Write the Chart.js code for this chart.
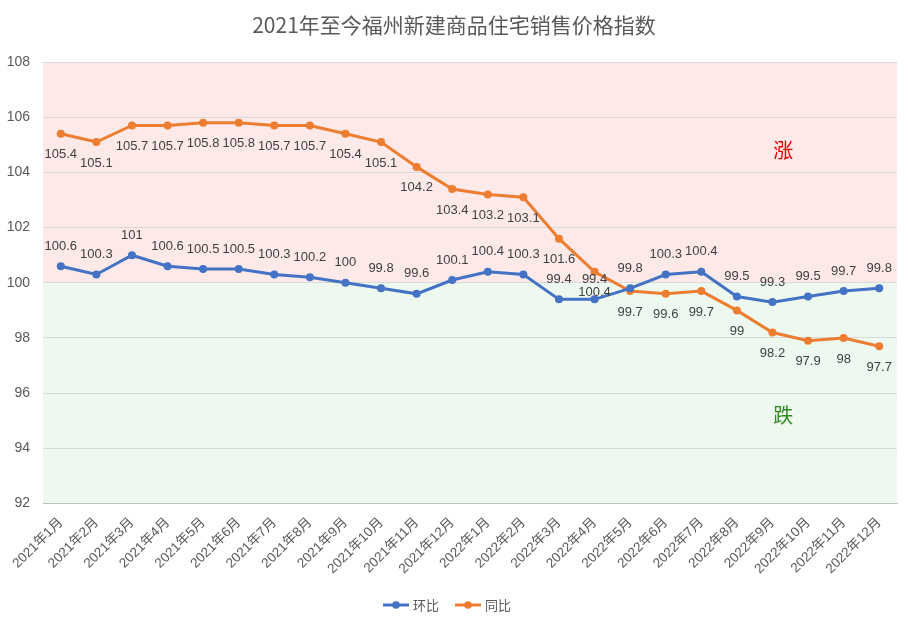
<!DOCTYPE html>
<html><head><meta charset="utf-8">
<script src="https://cdn.jsdelivr.net/npm/chart.js@4"></script>
<style>html,body{margin:0;padding:0;background:#fff;}#wrap{width:908px;height:629px;position:relative;}</style>
</head><body><div id="wrap"><canvas id="c" width="908" height="629"></canvas></div>
<script>
const categories = ['2021年1月','2021年2月','2021年3月','2021年4月','2021年5月','2021年6月','2021年7月','2021年8月','2021年9月','2021年10月','2021年11月','2021年12月','2022年1月','2022年2月','2022年3月','2022年4月','2022年5月','2022年6月','2022年7月','2022年8月','2022年9月','2022年10月','2022年11月','2022年12月'];
const huanbi = [100.6,100.3,101,100.6,100.5,100.5,100.3,100.2,100,99.8,99.6,100.1,100.4,100.3,99.4,99.4,99.8,100.3,100.4,99.5,99.3,99.5,99.7,99.8];
const tongbi = [105.4,105.1,105.7,105.7,105.8,105.8,105.7,105.7,105.4,105.1,104.2,103.4,103.2,103.1,101.6,100.4,99.7,99.6,99.7,99,98.2,97.9,98,97.7];
const yTicks = [92,94,96,98,100,102,104,106,108];
const titleText = '2021年至今福州新建商品住宅销售价格指数';
const numFont = '"Liberation Sans", "Noto Sans CJK SC", sans-serif';
const cjkFont = '"Noto Sans CJK SC", sans-serif';

const bandPlugin = {
  id:'bands',
  beforeDraw(chart){
    const {ctx, chartArea:a, scales:{y}} = chart;
    const p100 = y.getPixelForValue(100);
    ctx.save();
    ctx.fillStyle = '#fde9e7';
    ctx.fillRect(a.left, a.top, a.right-a.left, p100-a.top);
    ctx.fillStyle = '#edf9ee';
    ctx.fillRect(a.left, p100, a.right-a.left, a.bottom-p100);
    ctx.restore();
  },
  afterDatasetsDraw(chart){
    const {ctx, chartArea:a, scales:{x,y}} = chart;
    ctx.save();
    ctx.font = '20px ' + cjkFont;
    ctx.textAlign='center'; ctx.textBaseline='middle';
    ctx.fillStyle = '#e00000';
    ctx.fillText('涨', x.getPixelForValue(20.3), y.getPixelForValue(104.8));
    ctx.fillStyle = '#2e8b1e';
    ctx.fillText('跌', x.getPixelForValue(20.3), y.getPixelForValue(95.2));
    // data labels
    ctx.font = '13px ' + numFont;
    ctx.fillStyle = '#404040';
    chart.data.datasets.forEach((ds, di) => {
      const meta = chart.getDatasetMeta(di);
      meta.data.forEach((pt, i) => {
        const off = di===0 ? -20 : 21;
        ctx.fillText(String(ds.data[i]), pt.x, pt.y + off);
      });
    });
    // title
    ctx.font = '21px ' + cjkFont;
    ctx.fillStyle = '#595959';
    ctx.fillText(titleText, 454, 25);
    // legend
    const items = [['环比','#4472c4'],['同比','#ed7d31']];
    let lx = 383; const ly = 605;
    ctx.font = '13px ' + cjkFont;
    ctx.textAlign='left';
    items.forEach(([t,c])=>{
      ctx.strokeStyle=c; ctx.lineWidth=3;
      ctx.beginPath(); ctx.moveTo(lx,ly); ctx.lineTo(lx+26,ly); ctx.stroke();
      ctx.fillStyle=c; ctx.beginPath(); ctx.arc(lx+13,ly,3.8,0,Math.PI*2); ctx.fill();
      ctx.fillStyle='#595959'; ctx.fillText(t, lx+30, ly);
      lx += 72;
    });
    ctx.restore();
  }
};

new Chart(document.getElementById('c'), {
  type:'line',
  data:{
    labels: categories,
    datasets:[
      {label:'环比', data:huanbi, borderColor:'#4472c4', backgroundColor:'#4472c4', borderWidth:3, pointRadius:4, pointBackgroundColor:'#4472c4', pointBorderWidth:0, tension:0},
      {label:'同比', data:tongbi, borderColor:'#ed7d31', backgroundColor:'#ed7d31', borderWidth:3, pointRadius:4, pointBackgroundColor:'#ed7d31', pointBorderWidth:0, tension:0}
    ]
  },
  options:{
    responsive:false, animation:false, devicePixelRatio:1,
    layout:{padding:{top:62, left:4, right:11, bottom:49}},
    plugins:{legend:{display:false}, title:{display:false}, tooltip:{enabled:false}},
    scales:{
      x:{offset:true, grid:{display:false}, border:{color:'#bfbfbf'},
         afterFit(s){ s.paddingLeft = 0; s.paddingRight = 0; },
         ticks:{color:'#595959', font:{size:13.5, family:numFont}, maxRotation:45, minRotation:45, autoSkip:false}},
      y:{min:92, max:108, afterBuildTicks(s){ s.ticks = yTicks.map(v=>({value:v})); },
         afterFit(s){ s.width = 39; },
         grid:{color:'#d9d9d9', drawTicks:false}, border:{display:false},
         ticks:{color:'#595959', font:{size:14, family:numFont}, padding:13}}
    }
  },
  plugins:[bandPlugin]
});
</script></body></html>
